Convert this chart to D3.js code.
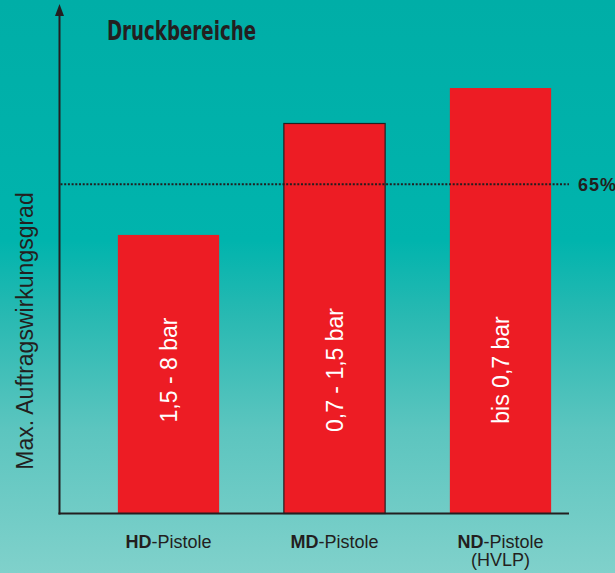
<!DOCTYPE html>
<html>
<head>
    <meta charset="utf-8">
    <title>Druckbereiche</title>
    <style type="text/css">
        body { margin: 0; }
        .axis-line { stroke: #231f20; stroke-width: 2; fill: none; }
        .cat-label { font-family: "Liberation Sans", Arial, sans-serif; font-size: 18px; fill: #231f20; }
        .bar-label { font-family: "Liberation Sans", Arial, sans-serif; font-size: 23px; fill: #ffffff; }
    </style>
</head>
<body>
<script src="https://cdn.jsdelivr.net/npm/d3@7"></script>
<script type="text/javascript">
    /*=========DATA=========*/
    var categories = ['HD', 'MD', 'ND'];
    var catSuffix = ['-Pistole', '-Pistole', '-Pistole'];
    var catSecondLine = ['', '', '(HVLP)'];
    var values = [55, 77, 84];          // max. Auftragswirkungsgrad in %
    var pressureLabels = ['1,5 - 8 bar', '0,7 - 1,5 bar', 'bis 0,7 bar'];
    var refValue = 65;
    var refLabel = '65%';
    var titleText = 'Druckbereiche';
    var yTitle = 'Max. Auftragswirkungsgrad';

    /*=====SIZE======*/
    var svgWidth = 615, svgHeight = 573;
    var x0 = 59.5, xEnd = 569, yBase = 513.5, yTop = 7;

    var svg = d3.select('body').append('svg')
        .attr('width', svgWidth).attr('height', svgHeight);

    // 背景渐变
    var grad = svg.append('defs').append('linearGradient')
        .attr('id', 'bg').attr('x1', 0).attr('y1', 0).attr('x2', 0).attr('y2', 1);
    [['0%', '#00aea7'], ['42%', '#00b4ad'], ['55%', '#28b9b2'], ['75%', '#5cc5bf'], ['100%', '#80d1cb']]
        .forEach(function (s) { grad.append('stop').attr('offset', s[0]).attr('stop-color', s[1]); });
    svg.append('rect').attr('width', svgWidth).attr('height', svgHeight).attr('fill', 'url(#bg)');

    // 比例尺
    var xScale = d3.scaleBand().domain(categories)
        .range([85.5, 583.5]).paddingInner(0.39).paddingOuter(0.195);
    var yScale = d3.scaleLinear().domain([0, 100]).range([yBase, yTop]);

    // 柱子
    svg.selectAll('.bar').data(values).enter().append('rect')
        .attr('class', 'bar')
        .attr('x', function (d, i) { return xScale(categories[i]); })
        .attr('y', function (d) { return yScale(d); })
        .attr('width', xScale.bandwidth())
        .attr('height', function (d) { return yBase - yScale(d); })
        .attr('fill', '#ed1c24')
        .attr('stroke', function (d, i) { return i === 1 ? '#231f20' : 'none'; })
        .attr('stroke-width', 1.2);

    // 柱内文字
    svg.selectAll('.bar-label').data(pressureLabels).enter().append('text')
        .attr('class', 'bar-label')
        .attr('transform', function (d, i) {
            return 'translate(' + (xScale(categories[i]) + xScale.bandwidth() / 2 + 8.5) + ',370) rotate(-90)';
        })
        .attr('text-anchor', 'middle')
        .text(function (d) { return d; });

    // 基准线 65%
    svg.append('line')
        .attr('x1', x0 + 1).attr('x2', xEnd)
        .attr('y1', yScale(refValue)).attr('y2', yScale(refValue))
        .attr('stroke', '#231f20').attr('stroke-width', 2).attr('stroke-dasharray', '2,1.7');
    svg.append('text')
        .attr('x', 578).attr('y', yScale(refValue) + 7)
        .attr('font-family', '"Liberation Sans", Arial, sans-serif')
        .attr('font-weight', 'bold').attr('font-size', 18).attr('letter-spacing', 1)
        .attr('fill', '#231f20')
        .text(refLabel);

    // 坐标轴
    svg.append('line').attr('class', 'axis-line')
        .attr('x1', x0).attr('x2', x0).attr('y1', yBase + 1).attr('y2', 14);
    svg.append('path')
        .attr('d', 'M' + (x0 - 4.5) + ',16 L' + x0 + ',4 L' + (x0 + 4.5) + ',16 Z')
        .attr('fill', '#231f20');
    svg.append('line').attr('class', 'axis-line')
        .attr('x1', x0 - 1).attr('x2', xEnd).attr('y1', yBase).attr('y2', yBase);

    // 类别标签
    var cat = svg.selectAll('.cat').data(categories).enter().append('text')
        .attr('class', 'cat-label')
        .attr('text-anchor', 'middle')
        .attr('x', function (d) { return xScale(d) + xScale.bandwidth() / 2; })
        .attr('y', 548);
    cat.append('tspan').attr('font-weight', 'bold').text(function (d) { return d; });
    cat.append('tspan').text(function (d, i) { return catSuffix[i]; });
    svg.selectAll('.cat2').data(catSecondLine).enter().append('text')
        .attr('class', 'cat-label')
        .attr('text-anchor', 'middle')
        .attr('x', function (d, i) { return xScale(categories[i]) + xScale.bandwidth() / 2; })
        .attr('y', 566)
        .text(function (d) { return d; });

    // Y轴标题
    svg.append('text')
        .attr('transform', 'translate(33,331) rotate(-90)')
        .attr('text-anchor', 'middle')
        .attr('font-family', '"Liberation Sans", Arial, sans-serif')
        .attr('font-size', 23).attr('fill', '#231f20')
        .text(yTitle);

    // 标题
    svg.append('text')
        .attr('x', 107).attr('y', 40)
        .attr('font-family', '"DejaVu Sans Condensed", "DejaVu Sans", sans-serif')
        .attr('font-stretch', 'condensed')
        .attr('font-weight', 'bold').attr('font-size', 26)
        .attr('textLength', 149).attr('lengthAdjust', 'spacingAndGlyphs')
        .attr('fill', '#231f20')
        .text(titleText);
</script>
</body>
</html>
